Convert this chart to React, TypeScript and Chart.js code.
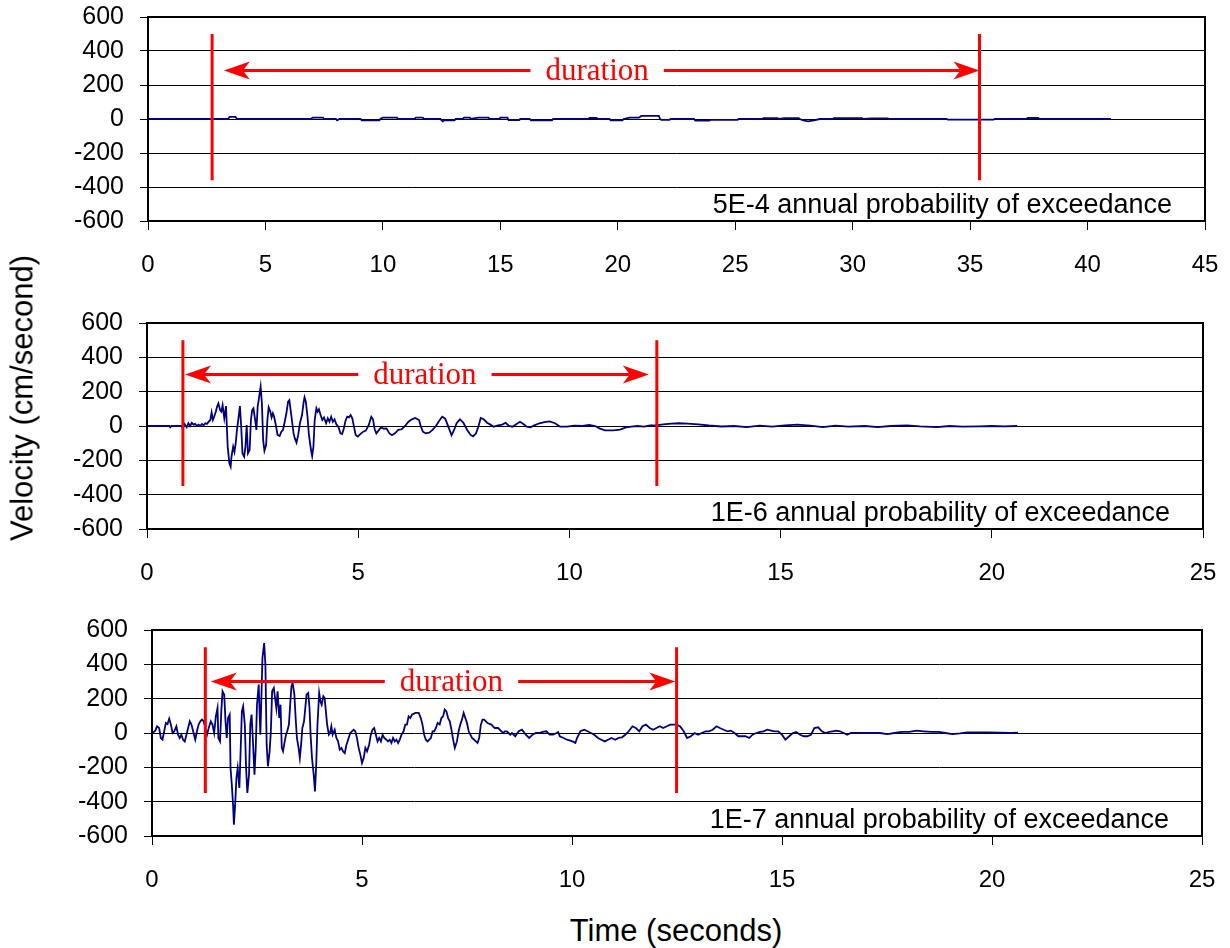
import React, { useEffect, useRef } from 'react';
import { Chart, registerables } from 'chart.js';

Chart.register(...registerables);

// ---------------- DATA ----------------
const yMin = -600;
const yMax = 600;
const yStep = 200;
const xStep = 5;
const xMaxes = [45, 25, 25];

const probabilityLabels = [
  '5E-4 annual probability of exceedance',
  '1E-6 annual probability of exceedance',
  '1E-7 annual probability of exceedance',
];
const durationText = 'duration';

// duration markers (seconds) and their vertical extent (cm/s)
const durationStart = [2.73, 0.85, 1.27];
const durationEnd = [35.4, 12.07, 12.49];
const markerTop = [500, 500, 500];
const markerBottom = [-360, -350, -350];
// arrow tips (seconds), arrow level (cm/s), label centre (seconds)
const arrowLeftTip = [3.23, 0.9, 1.4];
const arrowRightTip = [35.4, 11.88, 12.46];
const arrowLevel = [285, 300, 300];
const labelCenter = [19.12, 6.58, 7.13];

// Panel 1 : 5E-4
const time1 = [0, 3.4, 3.48, 3.72, 3.8, 6.95, 7.0, 7.45, 7.5, 8.0, 8.05, 8.15, 9.05, 9.1, 9.85, 9.9, 10.0, 10.6, 10.65,
  11.35, 11.4, 11.7, 11.75, 12.45, 12.5, 12.55, 12.6, 13.05, 13.1, 13.4, 13.45, 13.7, 13.75, 14.05, 14.5, 14.55,
  14.95, 15.0, 15.3, 15.35, 15.8, 15.85, 16.25, 16.3, 17.2, 17.25, 18.75, 18.8, 19.1, 19.15, 19.65, 19.7, 20.2, 20.25,
  20.5, 20.9, 21.0, 21.75, 21.8, 21.85, 22.2, 22.25, 23.25, 23.3, 23.9, 23.95, 25.1, 25.15, 26.15, 26.2, 26.8, 26.85,
  27.1, 27.7, 27.75, 27.9, 28.1, 28.35, 28.6, 29.15, 29.2, 30.4, 30.45, 30.8, 31.5, 31.55, 34.0, 34.05, 36.0, 36.05,
  37.4, 37.45, 37.9, 37.95, 41.0];
const vel1 = [0, 0, 12, 12, 0, 0, 8, 8, 0, 0, -8, 0, 0, -8, -8, 2, 8, 8, 0,
  0, 8, 8, 0, 0, -8, -14, -8, -8, 0, 0, 8, 8, 0, 8, 8, 0,
  0, 8, 8, -6, -6, 0, 0, -8, -8, 0, 0, 6, 6, 0, 0, -8, -8, 0,
  8, 8, 18, 18, 0, -5, -5, 0, 0, -10, -10, -5, -5, 0, 0, 5, 5, 0,
  5, 5, 0, -8, -14, -8, 0, 0, 5, 5, 0, 4, 4, 0, 0, -4, -4, 0,
  0, 6, 6, 0, 0];

// Panel 2 : 1E-6
const time2 = [0, 0.53, 0.55, 0.58, 0.81, 0.85, 0.89, 0.94, 0.98, 1.02, 1.06, 1.1, 1.14, 1.18, 1.22, 1.26, 1.3, 1.34, 1.38,
  1.42, 1.46, 1.5, 1.53, 1.56, 1.59, 1.63, 1.66, 1.69, 1.73, 1.76, 1.79, 1.83, 1.87, 1.91, 1.95, 1.98, 2.0, 2.04, 2.07,
  2.1, 2.13, 2.17, 2.2, 2.23, 2.26, 2.3, 2.33, 2.36, 2.39, 2.43, 2.46, 2.49, 2.52, 2.56, 2.59, 2.62, 2.65, 2.69, 2.72,
  2.75, 2.78, 2.82, 2.85, 2.88, 2.92, 2.95, 2.98, 3.01, 3.05, 3.09, 3.14, 3.18, 3.22, 3.26, 3.3, 3.34, 3.37, 3.4, 3.44,
  3.47, 3.5, 3.54, 3.58, 3.62, 3.67, 3.71, 3.73, 3.76, 3.8, 3.83, 3.86, 3.89, 3.91, 3.94, 3.97, 4.01, 4.04, 4.07, 4.11,
  4.15, 4.19, 4.24, 4.28, 4.32, 4.36, 4.4, 4.44, 4.48, 4.53, 4.58, 4.62, 4.66, 4.7, 4.74, 4.78, 4.82, 4.86, 4.9, 4.94,
  4.99, 5.03, 5.07, 5.12, 5.18, 5.25, 5.31, 5.35, 5.39, 5.43, 5.48, 5.54, 5.61, 5.67, 5.74, 5.8, 5.87, 5.95, 6.03, 6.11,
  6.19, 6.27, 6.35, 6.44, 6.48, 6.53, 6.6, 6.68, 6.76, 6.84, 6.93, 6.99, 7.06, 7.14, 7.21, 7.27, 7.33, 7.41, 7.49, 7.58,
  7.66, 7.72, 7.79, 7.85, 7.9, 7.97, 8.05, 8.13, 8.21, 8.31, 8.41, 8.49, 8.57, 8.65, 8.75, 8.83, 8.91, 8.99, 9.08, 9.17,
  9.29, 9.41, 9.53, 9.66, 9.78, 9.94, 10.12, 10.31, 10.47, 10.61, 10.71, 10.84, 11.04, 11.2, 11.34, 11.47, 11.61, 11.77,
  11.91, 12.06, 12.22, 12.42, 12.59, 12.8, 13.05, 13.3, 13.6, 13.9, 14.2, 14.5, 14.8, 15.1, 15.4, 15.7, 16.0, 16.3,
  16.6, 17.0, 17.3, 17.6, 18.0, 18.3, 18.7, 19.0, 19.3, 19.7, 20.0, 20.3, 20.6];
const vel2 = [0, 0, -8, 0, 0, -14, 12, -8, 16, 0, 19, 8, 12, 0, 8, 0, 12, 4, 16,
  12, 25, 35, 78, 35, 54, 84, 113, 132, 93, 84, 122, 45, 116, -120, -217, -237, -179, -120, -150,
  -101, -23, 54, 116, -4, -159, -179, -120, 6, -159, -140, 35, 93, 103, 35, -23, 113, 161, 229, 132,
  -82, -144, -111, 35, 109, 84, 50, 74, 54, 6, -52, -58, -33, -23, 25, 74, 142, 151, 93, 16,
  -43, -72, -97, -52, 16, 64, 142, 167, 142, 54, -43, -101, -150, -175, -120, 35, 103, 84, 97, 64,
  35, 50, 16, 45, 25, 54, 25, 39, 12, -4, -43, -47, -14, 31, 54, 50, 64, 45, -4, -52,
  -62, -52, -43, -33, -27, 6, 54, 39, -19, -43, -27, -8, -16, -14, -43, -54, -43, -23, -19, 0,
  25, 39, 47, 35, 0, -33, -43, -39, -23, 0, 35, 54, 43, -8, -54, -23, 16, 39, 19, -23,
  -52, -60, -43, 0, 47, 39, 19, 8, -4, 4, 8, 19, 0, -4, 12, 25, 12, -4, -8, 4,
  16, 23, 27, 16, -4, -4, 2, 0, 6, 0, -14, -25, -25, -21, -8, -4, 0, -4,
  4, 4, 10, 14, 16, 14, 10, 3, -3, 0, -6, 2, -4, 4, 8, 2, -6, 2,
  -4, 0, -6, 0, 4, -2, -6, 0, -4, -2, 0, -2, 0];

// Panel 3 : 1E-7
const time3 = [0, 0.04, 0.08, 0.12, 0.17, 0.21, 0.25, 0.29, 0.33, 0.37, 0.41, 0.45, 0.49, 0.53, 0.58, 0.62, 0.66, 0.7,
  0.74, 0.78, 0.82, 0.86, 0.9, 0.94, 0.99, 1.03, 1.07, 1.11, 1.15, 1.19, 1.23, 1.27, 1.31, 1.35, 1.4, 1.44, 1.48, 1.52,
  1.56, 1.58, 1.62, 1.65, 1.68, 1.72, 1.75, 1.78, 1.81, 1.85, 1.87, 1.9, 1.93, 1.95, 1.98, 2.01, 2.04, 2.08, 2.11, 2.14,
  2.17, 2.21, 2.24, 2.27, 2.31, 2.34, 2.37, 2.4, 2.44, 2.47, 2.5, 2.54, 2.58, 2.6, 2.63, 2.67, 2.7, 2.73, 2.76, 2.8,
  2.83, 2.86, 2.9, 2.93, 2.96, 2.99, 3.03, 3.06, 3.09, 3.12, 3.16, 3.19, 3.22, 3.26, 3.29, 3.32, 3.35, 3.39, 3.42, 3.45,
  3.49, 3.52, 3.55, 3.58, 3.62, 3.65, 3.68, 3.72, 3.75, 3.78, 3.81, 3.85, 3.88, 3.91, 3.94, 3.98, 4.01, 4.04, 4.08, 4.11,
  4.14, 4.17, 4.21, 4.24, 4.27, 4.3, 4.35, 4.39, 4.43, 4.47, 4.51, 4.55, 4.59, 4.63, 4.67, 4.72, 4.76, 4.8, 4.84, 4.88,
  4.92, 4.96, 5.0, 5.04, 5.08, 5.12, 5.17, 5.21, 5.25, 5.29, 5.33, 5.37, 5.41, 5.45, 5.49, 5.53, 5.58, 5.62, 5.66, 5.7,
  5.74, 5.78, 5.82, 5.86, 5.9, 5.94, 5.99, 6.03, 6.07, 6.11, 6.15, 6.19, 6.27, 6.35, 6.4, 6.44, 6.48, 6.52, 6.56, 6.64,
  6.68, 6.72, 6.76, 6.8, 6.85, 6.89, 6.93, 6.97, 7.01, 7.05, 7.09, 7.13, 7.17, 7.21, 7.26, 7.3, 7.34, 7.38, 7.42, 7.46,
  7.5, 7.54, 7.58, 7.62, 7.67, 7.71, 7.75, 7.79, 7.83, 7.87, 7.91, 7.95, 7.99, 8.08, 8.16, 8.24, 8.32, 8.36, 8.4, 8.45,
  8.49, 8.53, 8.57, 8.65, 8.73, 8.81, 8.9, 8.98, 9.06, 9.14, 9.22, 9.3, 9.39, 9.47, 9.55, 9.63, 9.67, 9.71, 9.8, 9.88,
  9.96, 10.04, 10.08, 10.12, 10.2, 10.29, 10.37, 10.45, 10.53, 10.62, 10.7, 10.78, 10.86, 10.94, 11.03, 11.11, 11.19,
  11.27, 11.35, 11.44, 11.52, 11.6, 11.68, 11.76, 11.85, 11.93, 12.01, 12.09, 12.17, 12.26, 12.34, 12.42, 12.49, 12.57,
  12.66, 12.74, 12.83, 12.92, 13.0, 13.09, 13.18, 13.26, 13.35, 13.44, 13.52, 13.61, 13.7, 13.78, 13.87, 13.96, 14.04,
  14.13, 14.22, 14.3, 14.39, 14.48, 14.56, 14.65, 14.74, 14.82, 14.91, 15.0, 15.08, 15.17, 15.26, 15.34, 15.43, 15.52,
  15.6, 15.69, 15.77, 15.86, 15.95, 16.03, 16.12, 16.21, 16.29, 16.38, 16.47, 16.55, 16.64, 16.81, 16.99, 17.16, 17.33,
  17.51, 17.68, 17.85, 18.03, 18.2, 18.37, 18.55, 18.72, 18.89, 19.06, 19.24, 19.41, 19.93, 20.45, 20.62];
const vel3 = [0, 6, 14, 39, 29, -29, -39, 10, 58, 52, 84, 49, 0, 10, 39, -10, -29, -10,
  -39, -49, -10, 29, 68, 49, 0, -39, 10, 49, 68, 78, 68, 29, -10, 29, 68, 49, 0, 97,
  146, -29, -49, 126, 243, 223, 68, -29, 87, 107, -204, -301, -418, -534, -418, -262, -204, -320, -107, 126,
  155, 49, -204, -349, -243, 49, 107, -29, -243, -87, 165, 282, -10, 165, 437, 524, 398, -68, -194, -107,
  10, 243, 262, 204, 146, 243, 87, 165, -87, -107, -49, -10, 10, 49, 165, 272, 291, 223, 87, -29,
  -87, -146, -68, 29, 68, 146, 223, 233, 146, -29, -146, -243, -340, -184, 49, 233, 184, 165, 214, 204,
  126, 49, -10, 0, 39, -10, 19, -29, -49, -97, -87, -107, -117, -68, -39, 0, 10, 19, 10, -29,
  -87, -126, -175, -146, -87, -107, -68, -10, 19, 29, -10, -49, -29, -49, -10, -29, -39, -49, -39, -58,
  -29, -49, -39, -58, -39, -10, 10, 49, 49, 97, 87, 107, 117, 117, 87, 49, -10, -39, -49, -29,
  10, 10, 29, 58, 49, 87, 97, 136, 126, 87, 68, 19, -39, -87, -49, 10, 49, 78, 117, 87,
  58, 10, -10, -29, -39, -49, -58, -29, 49, 78, 78, 68, 58, 49, 29, 29, 10, 0, 10, 10,
  0, -10, 0, -19, 10, 19, -10, -29, -10, 0, 0, 6, 10, -10, -10, 0, 6, -19, -29, -39,
  -45, -52, -58, -29, 10, 19, 10, 0, -10, -29, -39, -49, -39, -29, -39, -29, -25,
  -10, 10, 39, 29, 10, 39, 49, 29, 19, 29, 39, 29, 39, 49, 49, 49, 39,
  10, -29, -19, 0, -10, 0, 10, 10, 19, 39, 29, 19, 10, 14, 0, -19, -19,
  -19, -29, -10, 0, 6, 10, 19, 14, 10, 10, -10, -39, -19, 0, 6, -10, -19,
  -19, -10, 29, 33, 10, 0, 6, 10, 14, 10, 0, -10, 0, 0, 0, 0, 0,
  -6, 0, 6, 6, 14, 10, 6, 6, 0, -6, -2, 4, 4, 0, 2];

const panelTimes = [time1, time2, time3];
const panelVels = [vel1, vel2, vel3];

// ---------------- LAYOUT ----------------
const CANVAS_W = 1230;
const CANVAS_H = 300;
const panels = [
  { top: 0, areaTop: 17, areaBottom: 221, left: 148, right: 1205 },
  { top: 300, areaTop: 23, areaBottom: 229, left: 147, right: 1203 },
  { top: 607, areaTop: 23, areaBottom: 229, left: 152, right: 1202 },
];

const sansFamily = "'Liberation Sans', Arial, Helvetica, sans-serif";
const serifFamily = "'Liberation Serif', 'Times New Roman', Times, serif";

function zeroPadding(s: any) {
  s.paddingTop = 0;
  s.paddingBottom = 0;
  s.paddingLeft = 0;
  s.paddingRight = 0;
}

function makeAnnotationPlugin(i: number) {
  return {
    id: 'durationAnnotation' + i,
    afterDatasetsDraw(chart: any) {
      const { ctx, chartArea } = chart;
      const xs = chart.scales.x;
      const ys = chart.scales.y;
      ctx.save();
      // plot frame
      ctx.strokeStyle = '#000';
      ctx.lineWidth = 2;
      ctx.strokeRect(chartArea.left, chartArea.top, chartArea.right - chartArea.left, chartArea.bottom - chartArea.top);

      // duration arrow + label
      const y = ys.getPixelForValue(arrowLevel[i]);
      const lx = xs.getPixelForValue(arrowLeftTip[i]);
      const rx = xs.getPixelForValue(arrowRightTip[i]);
      const cx = xs.getPixelForValue(labelCenter[i]);
      ctx.font = `31px ${serifFamily}`;
      const tw = ctx.measureText(durationText).width;
      const gap = 15;
      const headLen = 26;
      const headHalf = 9;
      const notch = 19;
      ctx.strokeStyle = '#ff0000';
      ctx.fillStyle = '#ff0000';
      ctx.lineWidth = 3;
      ctx.beginPath();
      ctx.moveTo(lx + notch, y);
      ctx.lineTo(cx - tw / 2 - gap, y);
      ctx.moveTo(cx + tw / 2 + gap, y);
      ctx.lineTo(rx - notch, y);
      ctx.stroke();
      // left head
      ctx.beginPath();
      ctx.moveTo(lx, y);
      ctx.lineTo(lx + headLen, y - headHalf);
      ctx.lineTo(lx + notch, y);
      ctx.lineTo(lx + headLen, y + headHalf);
      ctx.closePath();
      ctx.fill();
      // right head
      ctx.beginPath();
      ctx.moveTo(rx, y);
      ctx.lineTo(rx - headLen, y - headHalf);
      ctx.lineTo(rx - notch, y);
      ctx.lineTo(rx - headLen, y + headHalf);
      ctx.closePath();
      ctx.fill();
      ctx.textAlign = 'center';
      ctx.textBaseline = 'middle';
      ctx.fillText(durationText, cx, y + 1);

      // probability label
      ctx.fillStyle = '#000';
      ctx.font = `27px ${sansFamily}`;
      ctx.textAlign = 'right';
      ctx.textBaseline = 'middle';
      ctx.fillText(probabilityLabels[i], chartArea.right - 33, chartArea.bottom - 15);
      ctx.restore();
    },
  };
}

function Panel({ index }: { index: number }) {
  const ref = useRef<HTMLCanvasElement | null>(null);
  useEffect(() => {
    if (!ref.current) return;
    const p = panels[index];
    const times = panelTimes[index];
    const vels = panelVels[index];
    const trace = times.map((t, k) => ({ x: t, y: vels[k] }));
    const startLine = [
      { x: durationStart[index], y: markerTop[index] },
      { x: durationStart[index], y: markerBottom[index] },
    ];
    const endLine = [
      { x: durationEnd[index], y: markerTop[index] },
      { x: durationEnd[index], y: markerBottom[index] },
    ];
    const xAxisHeight = CANVAS_H - p.areaBottom;
    const chart = new Chart(ref.current, {
      type: 'line',
      data: {
        datasets: [
          { data: startLine, borderColor: '#ff0000', borderWidth: 3, pointRadius: 0, order: 0 },
          { data: endLine, borderColor: '#ff0000', borderWidth: 3, pointRadius: 0, order: 0 },
          { data: trace, borderColor: '#000080', borderWidth: 1.8, pointRadius: 0, order: 1, tension: 0 },
        ],
      } as any,
      options: {
        animation: false,
        responsive: false,
        events: [],
        layout: { padding: { top: p.areaTop, right: CANVAS_W - p.right, left: 0, bottom: 0 } },
        plugins: { legend: { display: false }, tooltip: { enabled: false }, title: { display: false } },
        scales: {
          x: {
            type: 'linear',
            min: 0,
            max: xMaxes[index],
            ticks: {
              stepSize: xStep, autoSkip: false, color: '#000',
              font: { family: sansFamily, size: 24 }, padding: 21, maxRotation: 0,
            },
            grid: { drawOnChartArea: false, tickLength: 9, color: '#000', tickColor: '#000', lineWidth: 1 },
            border: { display: false },
            afterFit: (s: any) => { s.height = xAxisHeight; zeroPadding(s); },
          },
          y: {
            type: 'linear',
            min: yMin,
            max: yMax,
            ticks: {
              stepSize: yStep, autoSkip: false, color: '#000',
              font: { family: sansFamily, size: 25 }, padding: 16,
            },
            grid: { color: '#000', tickColor: '#000', tickLength: 8, lineWidth: 1 },
            border: { display: false },
            afterFit: (s: any) => { s.width = p.left; zeroPadding(s); },
          },
        },
      } as any,
      plugins: [makeAnnotationPlugin(index)],
    });
    return () => chart.destroy();
  }, [index]);
  const p = panels[index];
  return (
    <canvas
      ref={ref}
      width={CANVAS_W}
      height={CANVAS_H}
      style={{ position: 'absolute', left: 0, top: p.top, width: CANVAS_W, height: CANVAS_H, display: 'block' }}
    />
  );
}

export default function App() {
  return (
    <div style={{ position: 'absolute', left: 0, top: 0, width: 1230, height: 948, background: '#fff', overflow: 'hidden' }}>
      <Panel index={0} />
      <Panel index={1} />
      <Panel index={2} />
      <div
        style={{
          position: 'absolute', left: 22, top: 398, transform: 'translate(-50%, -50%) rotate(-90deg)',
          whiteSpace: 'nowrap', fontFamily: sansFamily, fontSize: 31, color: '#000', lineHeight: 1,
        }}
      >
        Velocity (cm/second)
      </div>
      <div
        style={{
          position: 'absolute', left: 676, top: 930, transform: 'translate(-50%, -50%)',
          whiteSpace: 'nowrap', fontFamily: sansFamily, fontSize: 31, color: '#000', lineHeight: 1,
        }}
      >
        Time (seconds)
      </div>
    </div>
  );
}
